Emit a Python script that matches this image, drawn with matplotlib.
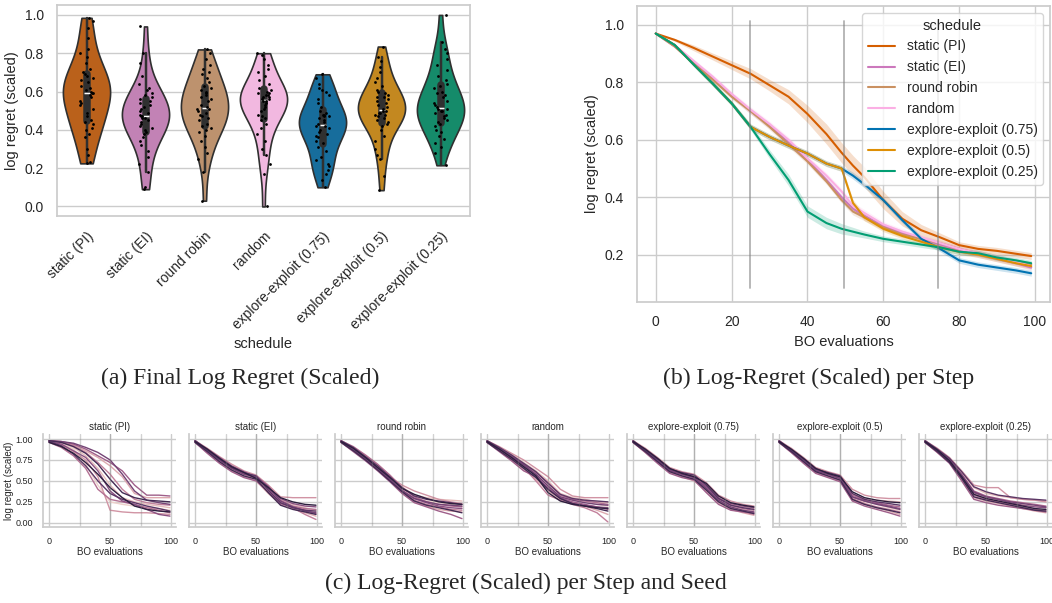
import numpy as np
import pandas as pd
import matplotlib
matplotlib.use("Agg")
import matplotlib.pyplot as plt
import seaborn as sns

schedules = ["static (PI)", "static (EI)", "round robin", "random",
             "explore-exploit (0.75)", "explore-exploit (0.5)", "explore-exploit (0.25)"]
colors = ["#D55E00", "#CC78BC", "#CA9161", "#FBAFE4", "#0173B2", "#DE8F05", "#029E73"]

# final log regret (scaled) per seed, panel (a)
final_pi = [0.225, 0.23, 0.27, 0.30, 0.36, 0.38, 0.40, 0.41, 0.43, 0.44, 0.45, 0.47, 0.49, 0.51,
            0.53, 0.54, 0.55, 0.57, 0.58, 0.59, 0.59, 0.60, 0.61, 0.62, 0.63, 0.65, 0.66, 0.67,
            0.68, 0.69, 0.70, 0.72, 0.75, 0.78, 0.80, 0.82, 0.88, 0.93, 0.97, 0.985]
final_ei = [0.09, 0.10, 0.18, 0.22, 0.26, 0.29, 0.32, 0.34, 0.36, 0.38, 0.39, 0.40, 0.41, 0.42,
            0.43, 0.44, 0.45, 0.46, 0.46, 0.47, 0.47, 0.48, 0.49, 0.50, 0.51, 0.52, 0.53, 0.54,
            0.55, 0.56, 0.57, 0.58, 0.59, 0.61, 0.62, 0.64, 0.68, 0.75, 0.80, 0.94]
final_rr = [0.03, 0.18, 0.25, 0.28, 0.31, 0.34, 0.37, 0.39, 0.40, 0.41, 0.42, 0.43, 0.45, 0.46,
            0.47, 0.48, 0.49, 0.50, 0.51, 0.51, 0.52, 0.53, 0.55, 0.56, 0.57, 0.58, 0.59, 0.60,
            0.61, 0.62, 0.63, 0.65, 0.67, 0.69, 0.70, 0.72, 0.74, 0.77, 0.80, 0.82]
final_rnd = [0.0, 0.17, 0.22, 0.27, 0.30, 0.34, 0.38, 0.41, 0.43, 0.45, 0.46, 0.47, 0.48, 0.50,
             0.51, 0.52, 0.53, 0.54, 0.55, 0.55, 0.56, 0.56, 0.57, 0.57, 0.58, 0.58, 0.59, 0.59,
             0.60, 0.61, 0.62, 0.64, 0.66, 0.68, 0.70, 0.72, 0.74, 0.77, 0.79, 0.80]
final_ee75 = [0.10, 0.14, 0.17, 0.19, 0.21, 0.22, 0.24, 0.26, 0.29, 0.31, 0.33, 0.34, 0.36, 0.37,
              0.38, 0.39, 0.40, 0.41, 0.42, 0.42, 0.43, 0.44, 0.45, 0.46, 0.47, 0.47, 0.48, 0.48,
              0.49, 0.50, 0.52, 0.54, 0.56, 0.58, 0.60, 0.61, 0.62, 0.64, 0.67, 0.69]
final_ee50 = [0.085, 0.16, 0.25, 0.27, 0.30, 0.34, 0.37, 0.40, 0.42, 0.43, 0.44, 0.45, 0.46, 0.47,
              0.48, 0.48, 0.49, 0.49, 0.50, 0.50, 0.51, 0.52, 0.53, 0.54, 0.55, 0.56, 0.57, 0.57,
              0.58, 0.59, 0.60, 0.61, 0.63, 0.65, 0.67, 0.70, 0.73, 0.76, 0.78, 0.835]
final_ee25 = [0.215, 0.28, 0.31, 0.33, 0.35, 0.37, 0.39, 0.40, 0.42, 0.43, 0.44, 0.45, 0.46, 0.47,
              0.48, 0.49, 0.50, 0.50, 0.51, 0.51, 0.52, 0.53, 0.54, 0.55, 0.57, 0.58, 0.59, 0.60,
              0.62, 0.63, 0.64, 0.66, 0.68, 0.71, 0.74, 0.77, 0.80, 0.82, 0.86, 1.0]
finals = [final_pi, final_ei, final_rr, final_rnd, final_ee75, final_ee50, final_ee25]

# mean log regret per step, panel (b)
steps = [0, 5, 10, 15, 20, 25, 30, 35, 40, 45, 49, 52, 55, 60, 65, 70, 75, 80, 85, 90, 95, 99]
mean_pi = [0.97, 0.948, 0.92, 0.89, 0.86, 0.83, 0.79, 0.75, 0.69, 0.62, 0.555, 0.51, 0.47, 0.39,
           0.325, 0.285, 0.26, 0.233, 0.22, 0.213, 0.203, 0.195]
mean_ei = [0.97, 0.925, 0.87, 0.815, 0.755, 0.70, 0.65, 0.59, 0.53, 0.46, 0.40, 0.36, 0.335, 0.30,
           0.275, 0.255, 0.235, 0.215, 0.20, 0.185, 0.17, 0.155]
mean_rr = [0.97, 0.925, 0.865, 0.81, 0.75, 0.70, 0.645, 0.585, 0.525, 0.455, 0.39, 0.35, 0.33, 0.295,
           0.27, 0.255, 0.24, 0.22, 0.205, 0.19, 0.175, 0.165]
mean_rnd = [0.97, 0.93, 0.875, 0.82, 0.76, 0.705, 0.655, 0.60, 0.535, 0.475, 0.42, 0.37, 0.345, 0.305,
            0.28, 0.26, 0.24, 0.22, 0.205, 0.19, 0.175, 0.16]
mean_ee75 = [0.97, 0.93, 0.862, 0.796, 0.727, 0.645, 0.61, 0.58, 0.552, 0.517, 0.50, 0.475, 0.445, 0.39,
             0.32, 0.255, 0.22, 0.18, 0.165, 0.155, 0.145, 0.135]
mean_ee50 = [0.97, 0.93, 0.862, 0.796, 0.727, 0.645, 0.61, 0.58, 0.552, 0.517, 0.50, 0.38, 0.33, 0.29,
             0.265, 0.245, 0.225, 0.21, 0.20, 0.185, 0.17, 0.16]
mean_ee25 = [0.97, 0.93, 0.862, 0.796, 0.727, 0.645, 0.55, 0.46, 0.35, 0.31, 0.29, 0.28, 0.27, 0.255,
             0.245, 0.235, 0.225, 0.21, 0.205, 0.19, 0.18, 0.17]
means = [mean_pi, mean_ei, mean_rr, mean_rnd, mean_ee75, mean_ee50, mean_ee25]
band_pi = [0, 0.005, 0.01, 0.012, 0.015, 0.018, 0.02, 0.025, 0.03, 0.035, 0.035, 0.035, 0.035, 0.03,
           0.025, 0.02, 0.015, 0.012, 0.012, 0.012, 0.012, 0.012]
band_narrow = [0, 0.004, 0.006, 0.008, 0.008, 0.01, 0.01, 0.01, 0.01, 0.01, 0.01, 0.012, 0.012, 0.01,
               0.01, 0.01, 0.01, 0.01, 0.01, 0.01, 0.01, 0.01]
band_ee25 = [0, 0.004, 0.006, 0.008, 0.008, 0.01, 0.015, 0.02, 0.02, 0.02, 0.018, 0.015, 0.012, 0.01,
             0.01, 0.01, 0.01, 0.01, 0.01, 0.01, 0.01, 0.01]
bands = [band_pi, band_narrow, band_narrow, band_narrow, band_narrow, band_narrow, band_ee25]

# per seed curves, panel (c)
seed_steps = [0, 10, 20, 30, 40, 50, 60, 70, 80, 90, 99]
seeds_pi = [
    [0.98, 0.95, 0.88, 0.70, 0.45, 0.25, 0.22, 0.20, 0.18, 0.17, 0.15],
    [0.98, 0.96, 0.90, 0.80, 0.65, 0.45, 0.30, 0.25, 0.22, 0.20, 0.18],
    [0.98, 0.97, 0.93, 0.86, 0.78, 0.68, 0.55, 0.35, 0.30, 0.30, 0.30],
    [0.97, 0.93, 0.85, 0.75, 0.55, 0.15, 0.13, 0.12, 0.12, 0.11, 0.10],
    [0.98, 0.96, 0.92, 0.84, 0.72, 0.58, 0.40, 0.28, 0.24, 0.22, 0.21],
    [0.96, 0.90, 0.80, 0.65, 0.40, 0.28, 0.25, 0.22, 0.18, 0.15, 0.12],
    [0.98, 0.97, 0.94, 0.88, 0.80, 0.72, 0.62, 0.45, 0.33, 0.33, 0.32],
    [0.97, 0.94, 0.86, 0.78, 0.62, 0.38, 0.26, 0.22, 0.16, 0.10, 0.08],
    [0.98, 0.97, 0.95, 0.90, 0.84, 0.75, 0.58, 0.38, 0.27, 0.24, 0.22],
    [0.97, 0.92, 0.82, 0.68, 0.50, 0.35, 0.28, 0.24, 0.20, 0.17, 0.14],
    [0.98, 0.96, 0.91, 0.83, 0.70, 0.52, 0.36, 0.30, 0.27, 0.26, 0.25],
    [0.96, 0.91, 0.83, 0.72, 0.58, 0.42, 0.30, 0.20, 0.16, 0.14, 0.13]]
seeds_ei = [
    [0.97, 0.86, 0.74, 0.64, 0.57, 0.52, 0.38, 0.25, 0.20, 0.16, 0.13],
    [0.98, 0.88, 0.77, 0.67, 0.60, 0.55, 0.42, 0.28, 0.22, 0.18, 0.15],
    [0.96, 0.84, 0.72, 0.62, 0.55, 0.50, 0.35, 0.22, 0.17, 0.12, 0.08],
    [0.98, 0.89, 0.79, 0.70, 0.62, 0.57, 0.45, 0.31, 0.30, 0.30, 0.30],
    [0.97, 0.85, 0.75, 0.65, 0.58, 0.53, 0.40, 0.24, 0.18, 0.10, 0.04],
    [0.98, 0.87, 0.76, 0.66, 0.59, 0.56, 0.44, 0.27, 0.20, 0.17, 0.16],
    [0.96, 0.83, 0.71, 0.61, 0.54, 0.50, 0.37, 0.23, 0.19, 0.15, 0.11],
    [0.98, 0.88, 0.78, 0.68, 0.61, 0.54, 0.41, 0.29, 0.23, 0.20, 0.19],
    [0.97, 0.86, 0.75, 0.65, 0.58, 0.55, 0.43, 0.26, 0.19, 0.14, 0.12],
    [0.98, 0.87, 0.76, 0.66, 0.60, 0.56, 0.39, 0.24, 0.18, 0.15, 0.14],
    [0.96, 0.85, 0.73, 0.63, 0.56, 0.52, 0.36, 0.21, 0.16, 0.13, 0.10],
    [0.97, 0.88, 0.77, 0.67, 0.60, 0.53, 0.42, 0.30, 0.25, 0.22, 0.21]]
seeds_rr = [
    [0.97, 0.88, 0.78, 0.66, 0.53, 0.40, 0.30, 0.26, 0.24, 0.22, 0.20],
    [0.98, 0.90, 0.80, 0.69, 0.56, 0.43, 0.33, 0.30, 0.28, 0.27, 0.26],
    [0.96, 0.86, 0.75, 0.63, 0.50, 0.36, 0.25, 0.20, 0.16, 0.14, 0.13],
    [0.98, 0.89, 0.79, 0.67, 0.55, 0.45, 0.38, 0.33, 0.28, 0.25, 0.23],
    [0.97, 0.87, 0.76, 0.64, 0.51, 0.38, 0.27, 0.22, 0.19, 0.16, 0.15],
    [0.98, 0.91, 0.81, 0.70, 0.57, 0.42, 0.31, 0.25, 0.22, 0.20, 0.19],
    [0.96, 0.85, 0.74, 0.62, 0.49, 0.35, 0.24, 0.19, 0.14, 0.10, 0.05],
    [0.97, 0.88, 0.77, 0.65, 0.52, 0.39, 0.29, 0.24, 0.20, 0.18, 0.17],
    [0.97, 0.87, 0.77, 0.65, 0.52, 0.38, 0.29, 0.25, 0.22, 0.21, 0.20],
    [0.98, 0.90, 0.79, 0.68, 0.55, 0.42, 0.32, 0.28, 0.26, 0.24, 0.22],
    [0.96, 0.86, 0.75, 0.63, 0.50, 0.37, 0.26, 0.21, 0.18, 0.15, 0.12],
    [0.97, 0.89, 0.78, 0.66, 0.54, 0.41, 0.34, 0.29, 0.25, 0.23, 0.22]]
seeds_rnd = [
    [0.97, 0.88, 0.78, 0.68, 0.58, 0.45, 0.32, 0.27, 0.25, 0.22, 0.20],
    [0.98, 0.90, 0.82, 0.72, 0.62, 0.50, 0.35, 0.30, 0.28, 0.25, 0.24],
    [0.96, 0.86, 0.75, 0.64, 0.52, 0.38, 0.28, 0.24, 0.20, 0.15, 0.10],
    [0.98, 0.91, 0.83, 0.75, 0.65, 0.55, 0.40, 0.32, 0.30, 0.30, 0.30],
    [0.97, 0.87, 0.77, 0.66, 0.50, 0.33, 0.27, 0.22, 0.18, 0.12, 0.01],
    [0.98, 0.89, 0.80, 0.70, 0.60, 0.48, 0.33, 0.28, 0.26, 0.24, 0.22],
    [0.96, 0.85, 0.74, 0.62, 0.55, 0.42, 0.30, 0.25, 0.22, 0.19, 0.16],
    [0.97, 0.88, 0.79, 0.69, 0.57, 0.40, 0.29, 0.23, 0.21, 0.19, 0.18],
    [0.97, 0.89, 0.79, 0.69, 0.58, 0.44, 0.31, 0.27, 0.24, 0.22, 0.21],
    [0.98, 0.90, 0.81, 0.71, 0.61, 0.47, 0.34, 0.29, 0.27, 0.26, 0.25],
    [0.96, 0.86, 0.76, 0.65, 0.54, 0.40, 0.29, 0.23, 0.20, 0.17, 0.14],
    [0.97, 0.88, 0.78, 0.67, 0.56, 0.36, 0.26, 0.22, 0.20, 0.18, 0.17]]
seeds_ee75 = [
    [0.97, 0.86, 0.74, 0.62, 0.57, 0.53, 0.42, 0.28, 0.20, 0.16, 0.13],
    [0.98, 0.88, 0.77, 0.65, 0.60, 0.56, 0.46, 0.31, 0.22, 0.19, 0.17],
    [0.96, 0.84, 0.72, 0.60, 0.55, 0.50, 0.38, 0.24, 0.16, 0.12, 0.09],
    [0.98, 0.89, 0.78, 0.66, 0.61, 0.58, 0.48, 0.33, 0.26, 0.22, 0.20],
    [0.97, 0.85, 0.73, 0.61, 0.56, 0.52, 0.40, 0.26, 0.18, 0.13, 0.10],
    [0.98, 0.87, 0.76, 0.64, 0.59, 0.55, 0.44, 0.30, 0.21, 0.17, 0.15],
    [0.96, 0.84, 0.71, 0.59, 0.54, 0.51, 0.36, 0.22, 0.15, 0.13, 0.12],
    [0.97, 0.87, 0.75, 0.63, 0.58, 0.54, 0.43, 0.29, 0.23, 0.20, 0.18],
    [0.97, 0.86, 0.74, 0.62, 0.58, 0.54, 0.41, 0.27, 0.19, 0.15, 0.13],
    [0.98, 0.87, 0.76, 0.64, 0.60, 0.57, 0.45, 0.29, 0.21, 0.18, 0.16],
    [0.96, 0.85, 0.73, 0.61, 0.56, 0.52, 0.39, 0.25, 0.17, 0.14, 0.11],
    [0.97, 0.88, 0.77, 0.65, 0.59, 0.55, 0.47, 0.32, 0.24, 0.21, 0.19]]
seeds_ee50 = [
    [0.97, 0.86, 0.74, 0.62, 0.57, 0.52, 0.30, 0.25, 0.22, 0.18, 0.15],
    [0.98, 0.88, 0.77, 0.65, 0.60, 0.55, 0.34, 0.29, 0.27, 0.26, 0.25],
    [0.96, 0.84, 0.72, 0.60, 0.55, 0.50, 0.27, 0.22, 0.18, 0.14, 0.10],
    [0.98, 0.89, 0.78, 0.66, 0.61, 0.57, 0.40, 0.33, 0.30, 0.29, 0.29],
    [0.97, 0.85, 0.73, 0.61, 0.56, 0.51, 0.29, 0.23, 0.19, 0.16, 0.13],
    [0.98, 0.87, 0.76, 0.64, 0.59, 0.54, 0.33, 0.27, 0.24, 0.21, 0.19],
    [0.96, 0.84, 0.71, 0.59, 0.54, 0.49, 0.26, 0.20, 0.16, 0.12, 0.08],
    [0.97, 0.87, 0.75, 0.63, 0.58, 0.53, 0.31, 0.26, 0.23, 0.20, 0.17],
    [0.97, 0.86, 0.74, 0.62, 0.58, 0.53, 0.31, 0.26, 0.22, 0.19, 0.16],
    [0.98, 0.87, 0.76, 0.64, 0.60, 0.56, 0.35, 0.28, 0.25, 0.23, 0.21],
    [0.96, 0.85, 0.73, 0.61, 0.56, 0.51, 0.28, 0.22, 0.18, 0.15, 0.12],
    [0.97, 0.88, 0.77, 0.65, 0.59, 0.55, 0.37, 0.30, 0.27, 0.25, 0.24]]
seeds_ee25 = [
    [0.97, 0.86, 0.74, 0.56, 0.35, 0.30, 0.27, 0.25, 0.22, 0.20, 0.18],
    [0.98, 0.88, 0.77, 0.60, 0.42, 0.35, 0.32, 0.30, 0.28, 0.27, 0.26],
    [0.96, 0.84, 0.72, 0.52, 0.30, 0.26, 0.23, 0.20, 0.17, 0.14, 0.12],
    [0.98, 0.89, 0.78, 0.62, 0.45, 0.42, 0.42, 0.30, 0.28, 0.27, 0.25],
    [0.97, 0.85, 0.73, 0.55, 0.33, 0.28, 0.25, 0.22, 0.19, 0.16, 0.15],
    [0.98, 0.87, 0.76, 0.58, 0.38, 0.32, 0.29, 0.26, 0.24, 0.22, 0.20],
    [0.96, 0.84, 0.71, 0.50, 0.28, 0.24, 0.21, 0.19, 0.17, 0.15, 0.13],
    [0.97, 0.87, 0.75, 0.57, 0.36, 0.31, 0.28, 0.24, 0.21, 0.19, 0.18],
    [0.97, 0.86, 0.75, 0.57, 0.37, 0.31, 0.28, 0.25, 0.23, 0.21, 0.19],
    [0.98, 0.88, 0.77, 0.61, 0.43, 0.37, 0.33, 0.31, 0.29, 0.28, 0.27],
    [0.96, 0.85, 0.72, 0.53, 0.31, 0.27, 0.24, 0.21, 0.18, 0.15, 0.14],
    [0.97, 0.87, 0.74, 0.55, 0.34, 0.29, 0.26, 0.23, 0.20, 0.17, 0.16]]
seeds = [seeds_pi, seeds_ei, seeds_rr, seeds_rnd, seeds_ee75, seeds_ee50, seeds_ee25]

captions = ["(a) Final Log Regret (Scaled)", "(b) Log-Regret (Scaled) per Step",
            "(c) Log-Regret (Scaled) per Step and Seed"]

sns.set_theme(style="whitegrid")
plt.rcParams["font.family"] = ["Liberation Sans", "DejaVu Sans"]

W, H = 1052, 603
fig = plt.figure(figsize=(W / 100, H / 100), dpi=100)

def px_axes(left, top, right, bottom):
    return fig.add_axes([left / W, 1 - bottom / H, (right - left) / W, (bottom - top) / H])

# (a) violins
ax_a = px_axes(57, 5, 470, 216)
df = pd.DataFrame({"schedule": np.repeat(schedules, [len(f) for f in finals]),
                   "log regret (scaled)": np.concatenate(finals)})
sns.violinplot(data=df, x="schedule", y="log regret (scaled)", hue="schedule",
               palette=colors, cut=0, inner="box", linewidth=1.2, legend=False, ax=ax_a)
np.random.seed(0)
sns.stripplot(data=df, x="schedule", y="log regret (scaled)", color="black",
              size=2, jitter=0.12, ax=ax_a)
ax_a.set_ylim(-0.05, 1.052)
ax_a.set_yticks([0.0, 0.2, 0.4, 0.6, 0.8, 1.0])
ax_a.tick_params(labelsize=10)
ax_a.set_xticks(range(len(schedules)))
ax_a.set_xticklabels(schedules, rotation=45, ha="right", rotation_mode="anchor")
ax_a.set_xlabel("schedule", fontsize=10.5)
ax_a.set_ylabel("log regret (scaled)", fontsize=10.5)

# (b) mean curves
ax_b = px_axes(637, 6, 1050, 302)
for name, c, m, b in zip(schedules, colors, means, bands):
    m = np.array(m)
    b = np.array(b)
    ax_b.fill_between(steps, m - b, m + b, color=c, alpha=0.2, linewidth=0)
    ax_b.plot(steps, m, color=c, lw=1.5, label=name)
for xv in [24.8, 49.6, 74.3]:
    ax_b.plot([xv, xv], [0.085, 1.015], color="gray", alpha=0.6, lw=1.3)
ax_b.set_xlim(-4.95, 103.95)
ax_b.set_ylim(0.035, 1.066)
ax_b.set_yticks([0.2, 0.4, 0.6, 0.8, 1.0])
ax_b.tick_params(labelsize=10)
ax_b.set_xlabel("BO evaluations", fontsize=10.5)
ax_b.set_ylabel("log regret (scaled)", fontsize=10.5)
ax_b.legend(title="schedule", loc="upper right", fontsize=10, title_fontsize=10.5)

# (c) per seed facets
seed_cols = sns.cubehelix_palette(12)
for i, name in enumerate(schedules):
    left = 43 + 146 * i
    ax = px_axes(left, 434, left + 133, 527)
    for j, s in enumerate(seeds[i]):
        ax.plot(seed_steps, s, color=seed_cols[j], lw=1.0)
    for xv in [25, 50, 75]:
        ax.axvline(xv, color="gray", alpha=0.35, lw=1.0)
    ax.set_xlim(-4.95, 103.95)
    ax.set_ylim(-0.05, 1.06)
    ax.set_xticks([0, 50, 100])
    ax.set_yticks([0.0, 0.25, 0.5, 0.75, 1.0])
    ax.set_title(name, fontsize=7, pad=3)
    ax.set_xlabel("BO evaluations", fontsize=7, labelpad=1)
    ax.tick_params(labelsize=6.5, pad=1)
    for sp in ["top", "right"]:
        ax.spines[sp].set_visible(False)
    if i == 0:
        ax.set_yticklabels(["0.00", "0.25", "0.50", "0.75", "1.00"])
        ax.set_ylabel("log regret (scaled)", fontsize=7, labelpad=1)
    else:
        ax.set_yticklabels([])

serif = ["Liberation Serif", "DejaVu Serif"]
fig.text(240 / W, 1 - 378 / H, captions[0], ha="center", va="center", fontsize=17, family=serif)
fig.text(819 / W, 1 - 378 / H, captions[1], ha="center", va="center", fontsize=17, family=serif)
fig.text(526 / W, 1 - 583 / H, captions[2], ha="center", va="center", fontsize=17, family=serif)

fig.savefig("out.png", dpi=100)
